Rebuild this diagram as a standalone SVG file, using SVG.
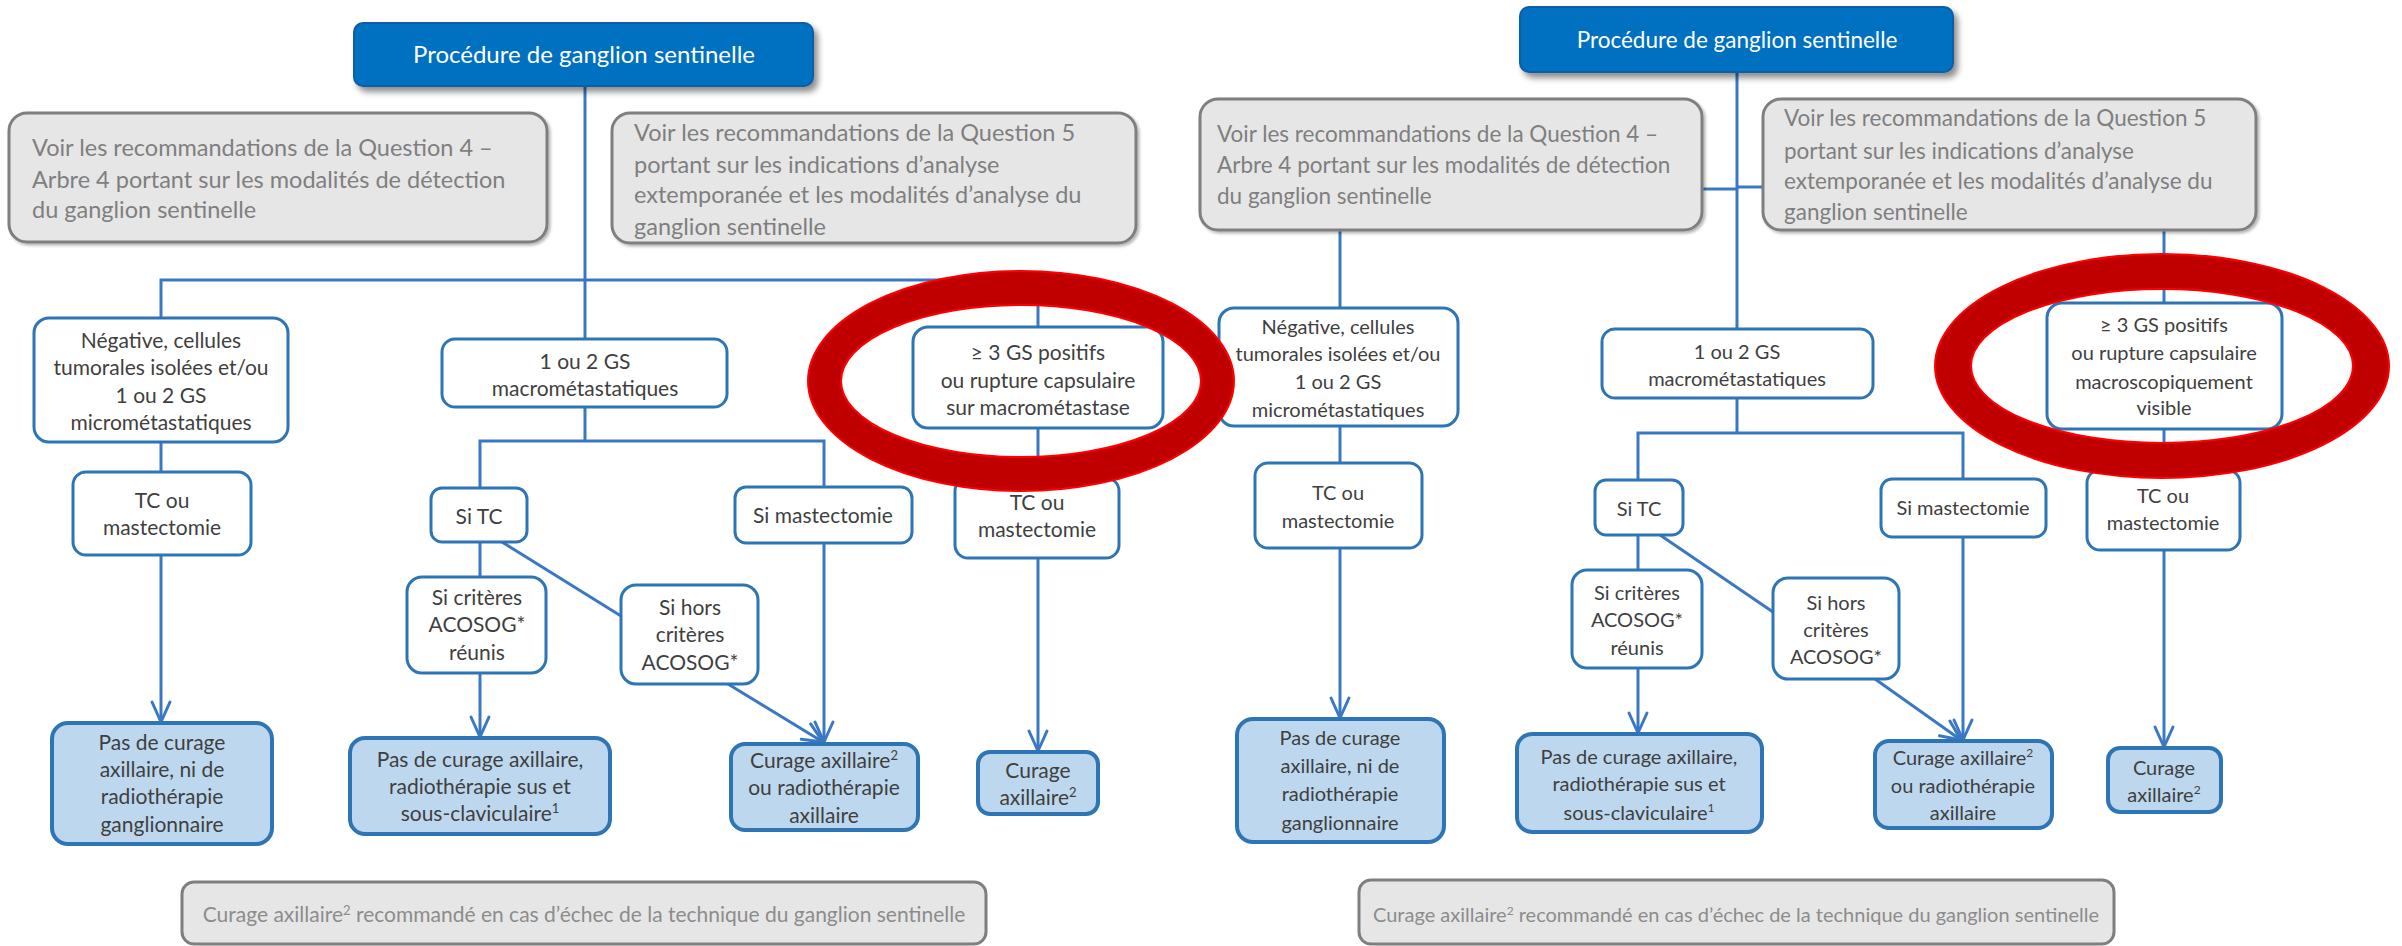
<svg xmlns="http://www.w3.org/2000/svg" width="2402" height="946" viewBox="0 0 2402 946">
  <defs>
    <style>
      .conn{stroke:#3B78C3;stroke-width:3;fill:none}
      .arr{marker-end:url(#vhead)}
      .wbox{fill:#FFFFFF;stroke:#2E75B6;stroke-width:3}
      .rbox{fill:#BDD7EE;stroke:#2E75B6;stroke-width:4}
      .gbox{fill:#E6E6E6;stroke:#7F7F7F;stroke-width:3}
      .tbox{fill:#0070C0;stroke:#0B5FA5;stroke-width:2}
      .ring{fill:#C00000;fill-rule:evenodd;stroke:#FF0000;stroke-width:2}
      text{font-family:Lato,"Liberation Sans","Noto Sans",sans-serif}
      .t{fill:#3F3F3F;text-anchor:middle}
      .L{font-size:21px}
      .R{font-size:20px}
      .g{fill:#7F7F7F}
      .gL{font-size:23.5px}
      .gR{font-size:22.5px}
      .h{fill:#FFFFFF;text-anchor:middle}
      .f{fill:#8C8C8C;text-anchor:middle}
    </style>
    <marker id="vhead" markerUnits="userSpaceOnUse" viewBox="-24 -13 28 26" refX="0" refY="0" markerWidth="28" markerHeight="26" orient="auto">
      <path d="M-20,-9 L0,0 L-20,9" fill="none" stroke="#3B78C3" stroke-width="3" stroke-linecap="round" stroke-linejoin="round"/>
    </marker>
    <filter id="shadow" x="-10%" y="-20%" width="125%" height="160%">
      <feGaussianBlur in="SourceAlpha" stdDeviation="3"/>
      <feOffset dx="4" dy="5" result="b"/>
      <feComponentTransfer><feFuncA type="linear" slope="0.45"/></feComponentTransfer>
      <feMerge><feMergeNode/><feMergeNode in="SourceGraphic"/></feMerge>
    </filter>
    <filter id="soft" x="-5%" y="-10%" width="110%" height="125%">
      <feGaussianBlur in="SourceAlpha" stdDeviation="1.5"/>
      <feOffset dx="2" dy="2" result="b"/>
      <feComponentTransfer><feFuncA type="linear" slope="0.3"/></feComponentTransfer>
      <feMerge><feMergeNode/><feMergeNode in="SourceGraphic"/></feMerge>
    </filter>
  </defs>

  <!-- connectors -->
  <g id="connectors">
    <!-- left tree -->
    <path class="conn" d="M585,86 V339"/>
    <path class="conn" d="M161,318 V280 H1038 V327"/>
    <path class="conn" d="M161,442 V472"/>
    <path class="conn" d="M585,407 V441 M480,488 V441 H824 V487"/>
    <path class="conn" d="M1038,428 V478"/>
    <path class="conn arr" d="M161,555 V722"/>
    <path class="conn" d="M480,542 V577"/>
    <path class="conn" d="M502,542 L621,616"/>
    <path class="conn arr" d="M480,673 V737"/>
    <path class="conn arr" d="M728,684 L823,742"/>
    <path class="conn arr" d="M824,543 V742"/>
    <path class="conn arr" d="M1038,558 V751"/>
    <!-- right tree -->
    <path class="conn" d="M1737,72 V329"/>
    <path class="conn" d="M1702,189 H1737 M1737,187 H1763"/>
    <path class="conn" d="M1340,230 V308"/>
    <path class="conn" d="M2164,230 V303"/>
    <path class="conn" d="M1340,426 V463"/>
    <path class="conn" d="M1737,398 V433 M1638,480 V433 H1963 V479"/>
    <path class="conn" d="M2164,429 V470"/>
    <path class="conn arr" d="M1340,548 V718"/>
    <path class="conn" d="M1638,535 V570"/>
    <path class="conn" d="M1660,535 L1773,612"/>
    <path class="conn arr" d="M1638,668 V733"/>
    <path class="conn arr" d="M1875,679 L1961,740"/>
    <path class="conn arr" d="M1963,537 V740"/>
    <path class="conn arr" d="M2164,550 V747"/>
  </g>

  <!-- left tree nodes -->
  <g id="title-left">
    <rect class="tbox" x="354" y="23" width="459" height="63" rx="9" filter="url(#shadow)"/>
    <text class="h" x="584" y="63" font-size="24">Procédure de ganglion sentinelle</text>
  </g>
  <g id="note-q4-left">
    <rect class="gbox" x="9" y="113" width="538" height="129" rx="18" filter="url(#soft)"/>
    <text class="g gL"><tspan x="32" y="156">Voir les recommandations de la Question 4 –</tspan><tspan x="32" y="188">Arbre 4 portant sur les modalités de détection</tspan><tspan x="32" y="218">du ganglion sentinelle</tspan></text>
  </g>
  <g id="note-q5-left">
    <rect class="gbox" x="612" y="113" width="524" height="130" rx="18" filter="url(#soft)"/>
    <text class="g gL"><tspan x="634" y="141">Voir les recommandations de la Question 5</tspan><tspan x="634" y="173">portant sur les indications d’analyse</tspan><tspan x="634" y="203">extemporanée et les modalités d’analyse du</tspan><tspan x="634" y="235">ganglion sentinelle</tspan></text>
  </g>
  <g id="neg-left">
    <rect class="wbox" x="34" y="318" width="254" height="124" rx="15"/>
    <text class="t L"><tspan x="161" y="348">Négative, cellules</tspan><tspan x="161" y="375">tumorales isolées et/ou</tspan><tspan x="161" y="403">1 ou 2 GS</tspan><tspan x="161" y="430">micrométastatiques</tspan></text>
  </g>
  <g id="macro-left">
    <rect class="wbox" x="442" y="339" width="285" height="68" rx="13"/>
    <text class="t L"><tspan x="585" y="369">1 ou 2 GS</tspan><tspan x="585" y="396">macrométastatiques</tspan></text>
  </g>
  <g id="three-left">
    <rect class="wbox" x="913" y="327" width="250" height="101" rx="15"/>
    <text class="t L"><tspan x="1038" y="360">≥ 3 GS positifs</tspan><tspan x="1038" y="388">ou rupture capsulaire</tspan><tspan x="1038" y="415">sur macrométastase</tspan></text>
  </g>
  <g id="tc-a-left">
    <rect class="wbox" x="73" y="472" width="178" height="83" rx="13"/>
    <text class="t L"><tspan x="162" y="508">TC ou</tspan><tspan x="162" y="535">mastectomie</tspan></text>
  </g>
  <g id="sitc-left">
    <rect class="wbox" x="431" y="488" width="96" height="54" rx="11"/>
    <text class="t L" x="479" y="524">Si TC</text>
  </g>
  <g id="simast-left">
    <rect class="wbox" x="735" y="487" width="177" height="56" rx="11"/>
    <text class="t L" x="823" y="523">Si mastectomie</text>
  </g>
  <g id="tc-b-left">
    <rect class="wbox" x="955" y="478" width="164" height="80" rx="13"/>
    <text class="t L"><tspan x="1037" y="510">TC ou</tspan><tspan x="1037" y="537">mastectomie</tspan></text>
  </g>
  <g id="acosog-yes-left">
    <rect class="wbox" x="407" y="577" width="139" height="96" rx="15"/>
    <text class="t L"><tspan x="477" y="605">Si critères</tspan><tspan x="477" y="632">ACOSOG*</tspan><tspan x="477" y="660">réunis</tspan></text>
  </g>
  <g id="acosog-no-left">
    <rect class="wbox" x="621" y="585" width="137" height="99" rx="15"/>
    <text class="t L"><tspan x="690" y="615">Si hors</tspan><tspan x="690" y="642">critères</tspan><tspan x="690" y="670">ACOSOG*</tspan></text>
  </g>
  <g id="res1-left">
    <rect class="rbox" x="52" y="723" width="220" height="121" rx="16"/>
    <text class="t L"><tspan x="162" y="750">Pas de curage</tspan><tspan x="162" y="777">axillaire, ni de</tspan><tspan x="162" y="804">radiothérapie</tspan><tspan x="162" y="832">ganglionnaire</tspan></text>
  </g>
  <g id="res2-left">
    <rect class="rbox" x="350" y="738" width="260" height="96" rx="15"/>
    <text class="t L"><tspan x="480" y="767">Pas de curage axillaire,</tspan><tspan x="480" y="794">radiothérapie sus et</tspan><tspan x="480" y="821">sous-claviculaire<tspan dy="-8" font-size="13">1</tspan></tspan></text>
  </g>
  <g id="res3-left">
    <rect class="rbox" x="731" y="744" width="187" height="86" rx="14"/>
    <text class="t L"><tspan x="824" y="768">Curage axillaire<tspan dy="-8" font-size="13">2</tspan></tspan><tspan x="824" y="795">ou radiothérapie</tspan><tspan x="824" y="823">axillaire</tspan></text>
  </g>
  <g id="res4-left">
    <rect class="rbox" x="978" y="752" width="120" height="62" rx="12"/>
    <text class="t L"><tspan x="1038" y="778">Curage</tspan><tspan x="1038" y="805">axillaire<tspan dy="-8" font-size="13">2</tspan></tspan></text>
  </g>
  <g id="footer-left">
    <rect class="gbox" x="182" y="882" width="804" height="62" rx="12"/>
    <text class="f" x="584" y="922" font-size="21">Curage axillaire<tspan dy="-7" font-size="13">2</tspan><tspan dy="7"> recommandé en cas d’échec de la technique du ganglion sentinelle</tspan></text>
  </g>

  <!-- right tree nodes -->
  <g id="title-right">
    <rect class="tbox" x="1520" y="7" width="433" height="65" rx="9" filter="url(#shadow)"/>
    <text class="h" x="1737" y="48" font-size="22.5">Procédure de ganglion sentinelle</text>
  </g>
  <g id="note-q4-right">
    <rect class="gbox" x="1200" y="99" width="502" height="131" rx="18" filter="url(#soft)"/>
    <text class="g gR"><tspan x="1217" y="142">Voir les recommandations de la Question 4 –</tspan><tspan x="1217" y="173">Arbre 4 portant sur les modalités de détection</tspan><tspan x="1217" y="204">du ganglion sentinelle</tspan></text>
  </g>
  <g id="note-q5-right">
    <rect class="gbox" x="1763" y="99" width="493" height="131" rx="18" filter="url(#soft)"/>
    <text class="g gR"><tspan x="1784" y="126">Voir les recommandations de la Question 5</tspan><tspan x="1784" y="159">portant sur les indications d’analyse</tspan><tspan x="1784" y="189">extemporanée et les modalités d’analyse du</tspan><tspan x="1784" y="220">ganglion sentinelle</tspan></text>
  </g>
  <g id="neg-right">
    <rect class="wbox" x="1219" y="308" width="239" height="118" rx="15"/>
    <text class="t R"><tspan x="1338" y="334">Négative, cellules</tspan><tspan x="1338" y="361">tumorales isolées et/ou</tspan><tspan x="1338" y="389">1 ou 2 GS</tspan><tspan x="1338" y="417">micrométastatiques</tspan></text>
  </g>
  <g id="macro-right">
    <rect class="wbox" x="1602" y="329" width="271" height="69" rx="13"/>
    <text class="t R"><tspan x="1737" y="359">1 ou 2 GS</tspan><tspan x="1737" y="386">macrométastatiques</tspan></text>
  </g>
  <g id="three-right">
    <rect class="wbox" x="2047" y="303" width="235" height="126" rx="15"/>
    <text class="t R"><tspan x="2164" y="332">≥ 3 GS positifs</tspan><tspan x="2164" y="360">ou rupture capsulaire</tspan><tspan x="2164" y="389">macroscopiquement</tspan><tspan x="2164" y="415">visible</tspan></text>
  </g>
  <g id="tc-a-right">
    <rect class="wbox" x="1255" y="463" width="167" height="85" rx="13"/>
    <text class="t R"><tspan x="1338" y="500">TC ou</tspan><tspan x="1338" y="528">mastectomie</tspan></text>
  </g>
  <g id="sitc-right">
    <rect class="wbox" x="1595" y="480" width="88" height="55" rx="11"/>
    <text class="t R" x="1639" y="516">Si TC</text>
  </g>
  <g id="simast-right">
    <rect class="wbox" x="1881" y="479" width="165" height="58" rx="11"/>
    <text class="t R" x="1963" y="515">Si mastectomie</text>
  </g>
  <g id="tc-b-right">
    <rect class="wbox" x="2087" y="470" width="153" height="80" rx="13"/>
    <text class="t R"><tspan x="2163" y="503">TC ou</tspan><tspan x="2163" y="530">mastectomie</tspan></text>
  </g>
  <g id="acosog-yes-right">
    <rect class="wbox" x="1572" y="570" width="130" height="98" rx="15"/>
    <text class="t R"><tspan x="1637" y="600">Si critères</tspan><tspan x="1637" y="627">ACOSOG*</tspan><tspan x="1637" y="655">réunis</tspan></text>
  </g>
  <g id="acosog-no-right">
    <rect class="wbox" x="1773" y="578" width="126" height="101" rx="15"/>
    <text class="t R"><tspan x="1836" y="610">Si hors</tspan><tspan x="1836" y="637">critères</tspan><tspan x="1836" y="664">ACOSOG*</tspan></text>
  </g>
  <g id="res1-right">
    <rect class="rbox" x="1237" y="719" width="207" height="123" rx="16"/>
    <text class="t R"><tspan x="1340" y="745">Pas de curage</tspan><tspan x="1340" y="773">axillaire, ni de</tspan><tspan x="1340" y="801">radiothérapie</tspan><tspan x="1340" y="830">ganglionnaire</tspan></text>
  </g>
  <g id="res2-right">
    <rect class="rbox" x="1517" y="734" width="245" height="98" rx="15"/>
    <text class="t R"><tspan x="1639" y="764">Pas de curage axillaire,</tspan><tspan x="1639" y="791">radiothérapie sus et</tspan><tspan x="1639" y="820">sous-claviculaire<tspan dy="-8" font-size="12">1</tspan></tspan></text>
  </g>
  <g id="res3-right">
    <rect class="rbox" x="1875" y="741" width="177" height="87" rx="14"/>
    <text class="t R"><tspan x="1963" y="765">Curage axillaire<tspan dy="-8" font-size="12">2</tspan></tspan><tspan x="1963" y="793">ou radiothérapie</tspan><tspan x="1963" y="820">axillaire</tspan></text>
  </g>
  <g id="res4-right">
    <rect class="rbox" x="2108" y="748" width="113" height="64" rx="12"/>
    <text class="t R"><tspan x="2164" y="775">Curage</tspan><tspan x="2164" y="802">axillaire<tspan dy="-8" font-size="12">2</tspan></tspan></text>
  </g>
  <g id="footer-right">
    <rect class="gbox" x="1359" y="880" width="755" height="64" rx="12"/>
    <text class="f" x="1736" y="922" font-size="20">Curage axillaire<tspan dy="-7" font-size="12">2</tspan><tspan dy="7"> recommandé en cas d’échec de la technique du ganglion sentinelle</tspan></text>
  </g>

  <!-- highlight rings -->
  <g id="ring-left">
    <path class="ring" d="M808,381 a213,110 0 1,0 426,0 a213,110 0 1,0 -426,0 Z M841,381 a180,76 0 1,0 360,0 a180,76 0 1,0 -360,0 Z"/>
  </g>
  <g id="ring-right">
    <path class="ring" d="M1935,366 a227,112 0 1,0 454,0 a227,112 0 1,0 -454,0 Z M1971,366 a191,77 0 1,0 382,0 a191,77 0 1,0 -382,0 Z"/>
  </g>
</svg>
